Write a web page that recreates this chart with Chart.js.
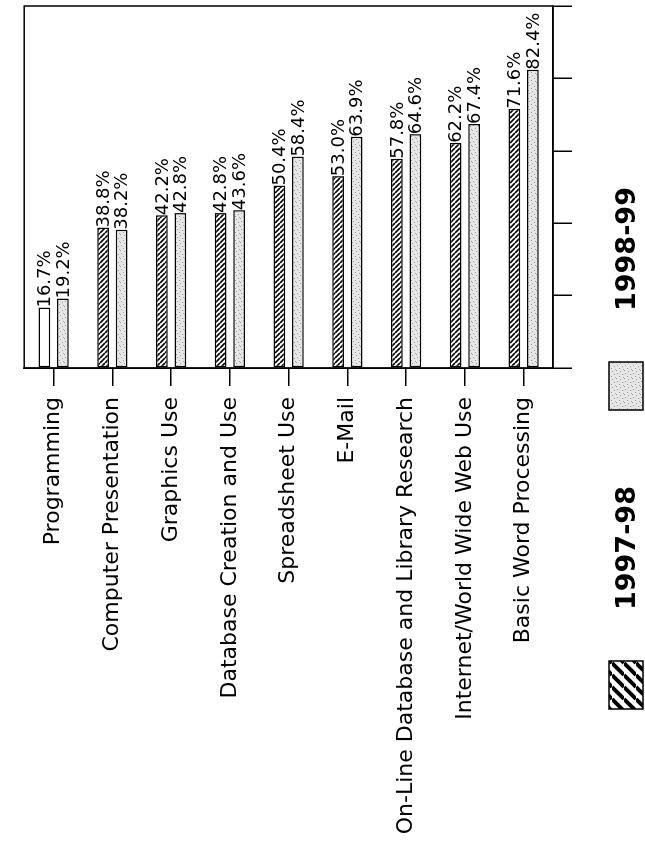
<!DOCTYPE html>
<html>
<head>
<meta charset="utf-8">
<script src="https://cdn.jsdelivr.net/npm/chart.js@4.4.0/dist/chart.umd.min.js"></script>
<style>
  html, body { margin: 0; padding: 0; overflow: hidden; background: #fff; width: 645px; height: 843px; }
  /* the chart is drawn lying down and turned a quarter turn, like the scanned page */
  #wrap { position: absolute; left: 0; top: 0; width: 843px; height: 645px;
          transform-origin: 0 0; transform: translateY(843px) rotate(-90deg); }
</style>
</head>
<body>
<div id="wrap"><canvas id="chart" width="843" height="645"></canvas></div>
<script>
// Chart data
var categories = [
  'Programming',
  'Computer Presentation',
  'Graphics Use',
  'Database Creation and Use',
  'Spreadsheet Use',
  'E-Mail',
  'On-Line Database and Library Research',
  'Internet/World Wide Web Use',
  'Basic Word Processing'
];
var seriesNames = ['1997-98', '1998-99'];
var values9798 = [16.7, 38.8, 42.2, 42.8, 50.4, 53.0, 57.8, 62.2, 71.6];
var values9899 = [19.2, 38.2, 42.8, 43.6, 58.4, 63.9, 64.6, 67.4, 82.4];
var valueMin = 0, valueMax = 100, valueStep = 20;

var canvas = document.getElementById('chart');
var ctx = canvas.getContext('2d');

// diagonal hatch, dir 1 = "\" , dir -1 = "/"
function makeHatch(size, lw, dir) {
  var c = document.createElement('canvas');
  c.width = size; c.height = size;
  var g = c.getContext('2d');
  g.fillStyle = '#fff';
  g.fillRect(0, 0, size, size);
  g.strokeStyle = '#000';
  g.lineWidth = lw;
  g.beginPath();
  for (var o = -size; o <= size; o += size) {
    if (dir > 0) { g.moveTo(o, 0); g.lineTo(o + size, size); }
    else { g.moveTo(o, size); g.lineTo(o + size, 0); }
  }
  g.stroke();
  return ctx.createPattern(c, 'repeat');
}

// light grey stipple
function makeStipple() {
  var c = document.createElement('canvas');
  c.width = 8; c.height = 8;
  var g = c.getContext('2d');
  g.fillStyle = '#e6e6e6';
  g.fillRect(0, 0, 8, 8);
  g.fillStyle = '#a0a0a0';
  [[0, 0], [5, 1], [2, 3], [7, 4], [4, 6], [1, 7]].forEach(function (d) {
    g.fillRect(d[0], d[1], 1, 1);
  });
  return ctx.createPattern(c, 'repeat');
}

var hatch = makeHatch(5, 1.6, 1);
var legendHatch = makeHatch(12, 4, -1);
var stipple = makeStipple();

// the first 1997-98 bar shows up blank in the scan
var fill9798 = values9798.map(function (v, i) { return i === 0 ? '#fff' : hatch; });

var frame = {
  id: 'frame',
  afterDatasetsDraw: function (chart) {
    var a = chart.chartArea, c = chart.ctx;
    c.save();
    c.strokeStyle = '#000';
    c.lineWidth = 1.5;
    c.strokeRect(a.left, a.top, a.right - a.left, a.bottom - a.top);
    c.restore();
  }
};

var valueLabels = {
  id: 'valueLabels',
  afterDatasetsDraw: function (chart) {
    var c = chart.ctx;
    c.save();
    c.font = '18px "DejaVu Sans"';
    c.fillStyle = '#000';
    c.textAlign = 'left';
    c.textBaseline = 'middle';
    chart.data.datasets.forEach(function (ds, di) {
      chart.getDatasetMeta(di).data.forEach(function (bar, i) {
        c.fillText(ds.data[i].toFixed(1) + '%', bar.x, bar.y + 1);
      });
    });
    c.restore();
  }
};

var legendRow = {
  id: 'legendRow',
  afterDraw: function (chart) {
    var c = chart.ctx;
    var top = chart.chartArea.bottom + 56;
    var fills = [legendHatch, stipple];
    c.save();
    c.font = 'bold 27px "DejaVu Sans"';
    c.textAlign = 'left';
    c.textBaseline = 'middle';
    seriesNames.forEach(function (name, i) {
      var x = 134 + i * 299;
      c.fillStyle = fills[i];
      c.fillRect(x, top, 48, 34);
      c.strokeStyle = '#000';
      c.lineWidth = 1.5;
      c.strokeRect(x, top, 48, 34);
      c.fillStyle = '#000';
      c.fillText(name, x + 99, top + 19);
    });
    c.restore();
  }
};

new Chart(canvas, {
  type: 'bar',
  data: {
    labels: categories,
    datasets: [{
      label: seriesNames[0],
      data: values9798,
      backgroundColor: fill9798,
      borderColor: '#000',
      borderWidth: 1.5,
      borderSkipped: false,
      categoryPercentage: 0.63,
      barPercentage: 0.63
    }, {
      label: seriesNames[1],
      data: values9899,
      backgroundColor: stipple,
      borderColor: '#000',
      borderWidth: 1.5,
      borderSkipped: false,
      categoryPercentage: 0.63,
      barPercentage: 0.63
    }]
  },
  options: {
    indexAxis: 'y',
    responsive: false,
    animation: false,
    layout: { padding: { top: 10, right: 6, left: 0, bottom: 0 } },
    plugins: { legend: { display: false }, tooltip: { enabled: false } },
    scales: {
      x: {
        min: valueMin,
        max: valueMax,
        ticks: { display: false, stepSize: valueStep },
        grid: { drawOnChartArea: false, tickLength: 19, color: '#000', lineWidth: 1.5 },
        border: { color: '#000', width: 1.5 },
        afterFit: function (s) { s.height = 92; }
      },
      y: {
        ticks: { color: '#000', font: { family: 'DejaVu Sans', size: 22 }, padding: 11, autoSkip: false },
        grid: { offset: false, drawOnChartArea: false, tickLength: 18, color: '#000', lineWidth: 1.5 },
        border: { color: '#000', width: 1.5 },
        afterFit: function (s) { s.width = 475; }
      }
    }
  },
  plugins: [frame, valueLabels, legendRow]
});
</script>
</body>
</html>
